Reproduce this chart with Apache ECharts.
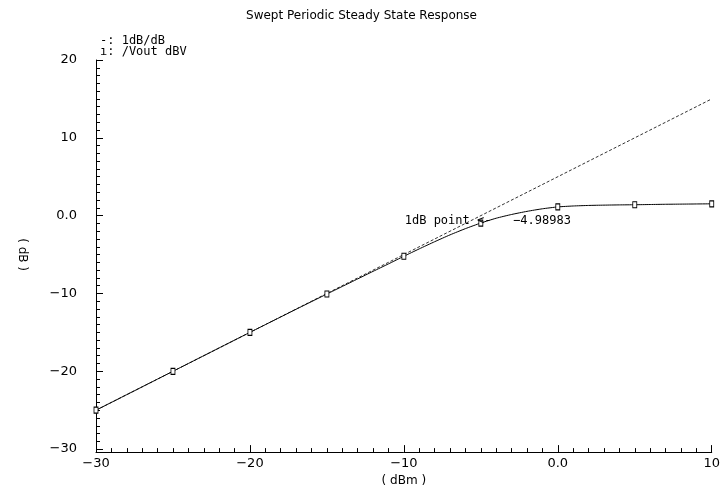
<!DOCTYPE html>
<html>
<head>
<meta charset="utf-8">
<script src="https://cdn.jsdelivr.net/npm/echarts@6/dist/echarts.min.js"></script>
<style>html,body{margin:0;padding:0;background:#fff}#c{width:723px;height:492px}</style>
</head>
<body>
<div id="c"></div>
<script>
// Data
var titleText = 'Swept Periodic Steady State Response';
var legendLabels = ['-: 1dB/dB', 'ı: /Vout dBV'];
var inputDbm = [-30, -29, -28, -27, -26, -25, -24, -23, -22, -21, -20, -19, -18, -17, -16, -15, -14, -13, -12, -11,
                -10, -9, -8, -7, -6, -5, -4, -3, -2, -1, 0, 1, 2, 3, 4, 5, 6, 7, 8, 9, 10];
var voutDbv = [-25, -24, -23, -22, -21, -20, -19, -18, -17, -16, -15, -14.01, -13.02, -12.03, -11.05, -10.07, -9.1, -8.13, -7.16, -6.2,
               -5.22, -4.27, -3.35, -2.47, -1.67, -0.95, -0.33, 0.15, 0.55, 0.88, 1.12, 1.24, 1.31, 1.35, 1.38, 1.4, 1.43, 1.46, 1.48, 1.5, 1.52];
var idealIn = [-30, 10];
var idealOut = [-25, 15];
var markerStep = 5;
var point1dB = [-5, -0.95];
var point1dBLabel = '1dB point <-   −4.98983';
var xTicks = [-30, 10, 10];   // min, max, interval
var yTicks = [-30, 20, 10];

var FONT = 'DejaVu Sans';
var MONO = 'DejaVu Sans Mono';
var chart = echarts.init(document.getElementById('c'), null, {renderer: 'canvas'});

function pairs(xs, ys) { return xs.map(function (x, i) { return [x, ys[i]]; }); }
function fmt(v) { return v === 0 ? '0.0' : String(v).replace('-', '−'); }

chart.setOption({
  animation: false,
  backgroundColor: '#fff',
  title: {
    text: titleText, left: 'center', top: 5,
    textStyle: {fontFamily: FONT, fontSize: 12, fontWeight: 'normal', color: '#000'}
  },
  graphic: [
    {type: 'text', left: 100, top: 35, style: {text: legendLabels[0], font: '12px ' + MONO, fill: '#000'}},
    {type: 'text', left: 100, top: 46, style: {text: legendLabels[1], font: '12px ' + MONO, fill: '#000'}}
  ],
  grid: {left: 96, right: 3, top: 60, bottom: 42, containLabel: false},
  xAxis: {
    type: 'value', min: xTicks[0], max: xTicks[1], interval: xTicks[2],
    offset: 3,
    name: '( dBm )', nameLocation: 'middle', nameGap: 22,
    nameTextStyle: {fontFamily: FONT, fontSize: 12, color: '#000'},
    axisLine: {show: true, onZero: false, lineStyle: {color: '#000', width: 1}},
    axisTick: {show: true, inside: true, length: 7, lineStyle: {color: '#000'}},
    minorTick: {show: true, splitNumber: 10, length: 4, lineStyle: {color: '#000'}},
    axisLabel: {fontFamily: FONT, fontSize: 13, color: '#000', margin: 5, formatter: fmt},
    splitLine: {show: false}
  },
  yAxis: {
    type: 'value', min: yTicks[0], max: yTicks[1], interval: yTicks[2],
    name: '( dB )', nameLocation: 'middle', nameGap: 68, nameRotate: -90,
    nameTextStyle: {fontFamily: FONT, fontSize: 12, color: '#000'},
    axisLine: {show: true, onZero: false, lineStyle: {color: '#000', width: 1}},
    axisTick: {show: true, inside: true, length: 7, lineStyle: {color: '#000'}},
    minorTick: {show: true, splitNumber: 10, length: 4, lineStyle: {color: '#000'}},
    axisLabel: {fontFamily: FONT, fontSize: 13, color: '#000', margin: 19, formatter: fmt},
    splitLine: {show: false}
  },
  series: [
    {
      name: '1dB/dB', type: 'line', data: pairs(idealIn, idealOut),
      showSymbol: false, symbol: 'none',
      lineStyle: {color: '#333', width: 1, type: [3, 2]},
      z: 2
    },
    {
      name: '/Vout dBV', type: 'line', data: pairs(inputDbm, voutDbv),
      smooth: 0.2,
      symbol: function (v) { return (v[0] % markerStep === 0) ? 'rect' : 'none'; },
      symbolSize: [4, 6],
      showSymbol: true, showAllSymbol: true,
      itemStyle: {color: '#fff', borderColor: '#000', borderWidth: 1},
      lineStyle: {color: '#000', width: 1},
      z: 3,
      markPoint: {
        symbol: 'circle', symbolSize: 1,
        itemStyle: {color: 'rgba(0,0,0,0)', borderWidth: 0},
        data: [{coord: point1dB}],
        label: {
          show: true, position: 'inside', offset: [7, -2],
          formatter: point1dBLabel,
          fontFamily: MONO, fontSize: 12, color: '#000'
        }
      }
    }
  ]
});
</script>
</body>
</html>
